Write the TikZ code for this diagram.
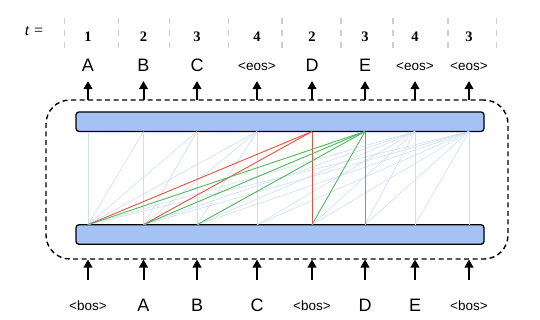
\documentclass[tikz,border=0pt]{standalone}
\usepackage{fontspec}
\setmainfont{Liberation Serif}
\newfontfamily\arialf{Liberation Sans}
\usetikzlibrary{arrows.meta}
\definecolor{barblue}{RGB}{164,194,244}
\definecolor{faintblue}{RGB}{205,221,247}
\definecolor{attred}{RGB}{234,80,60}
\definecolor{attgreen}{RGB}{80,185,90}
\definecolor{sepgrey}{RGB}{205,205,205}
\tikzset{
  bar/.style={draw=black, line width=1.3pt, fill=barblue, rounded corners=3pt,
    minimum width=408pt, minimum height=19.5pt, inner sep=0pt},
  dbox/.style={draw=black, line width=1.4pt, dash pattern=on 5pt off 3.5pt,
    rounded corners=24pt, minimum width=462pt, minimum height=159pt, inner sep=0pt},
  io/.style={-{Triangle[length=8pt,width=8.5pt]}, line width=2pt},
  faint/.style={faintblue, line width=0.6pt},
  redl/.style={attred, line width=0.9pt},
  greenl/.style={attgreen, line width=0.9pt},
  sep/.style={sepgrey, line width=1.6pt, dash pattern=on 6pt off 6pt},
  big/.style={font=\arialf\fontsize{18}{20}\selectfont, anchor=base, inner sep=0pt},
  small/.style={font=\arialf\fontsize{13.5}{15}\selectfont, anchor=base, inner sep=0pt},
  tnum/.style={font=\fontsize{14.5}{17}\selectfont\bfseries, anchor=base, inner sep=0pt},
}
\begin{document}
\begin{tikzpicture}[x=1pt,y=-1pt]
\useasboundingbox (0,0) rectangle (540,319);
% t row
\node[font=\fontsize{16}{18}\selectfont, anchor=base, inner sep=0pt] (tlab) at (34,35.5) {\textit{t}\hspace{4.5pt}=};
\foreach \x [count=\k] in {64.3,118.3,169.3,228.4,282,340.8,392.7,448,496.5}{
  \coordinate (sa\k) at (\x,18.3);
  \coordinate (sb\k) at (\x,48.3);
  \draw[sep] (sa\k) -- (sb\k);
}
\foreach \x/\n [count=\k] in {88/1,143.5/2,197/3,257/4,312/2,365/3,415/4,469/3}{
  \node[tnum] (t\k) at (\x,41) {\n};
}
% dashed box and bars
\node[dbox] (box) at (277,179.5) {};
\node[bar] (topbar) at (280,121.7) {};
\node[bar] (botbar) at (280,234.5) {};
% column coordinates
\foreach \x [count=\k] in {88,143.5,197,257,312,365,415,469}{
  \coordinate (tb\k) at (\x,131.5);
  \coordinate (bt\k) at (\x,224.7);
  \coordinate (ua\k) at (\x,100);
  \coordinate (ub\k) at (\x,81);
  \coordinate (la\k) at (\x,280);
  \coordinate (lb\k) at (\x,259.5);
  \draw[io] (ua\k) -- (ub\k);
  \draw[io] (la\k) -- (lb\k);
}
% top labels
\node[big] (oA) at (88,71) {A};
\node[big] (oB) at (143.5,71) {B};
\node[big] (oC) at (197,71) {C};
\node[small] (oE1) at (257,70) {<eos>};
\node[big] (oD) at (312,71) {D};
\node[big] (oE) at (365,71) {E};
\node[small] (oE2) at (415,70) {<eos>};
\node[small] (oE3) at (469,70) {<eos>};
% bottom labels
\node[small] (iB1) at (88,310) {<bos>};
\node[big] (iA) at (143.5,311) {A};
\node[big] (iB) at (197,311) {B};
\node[big] (iC) at (257,311) {C};
\node[small] (iB2) at (312,310) {<bos>};
\node[big] (iD) at (365,311) {D};
\node[big] (iE) at (415,311) {E};
\node[small] (iB3) at (469,310) {<bos>};
% faint attention
\foreach \j/\lst in {1/{1},2/{1,2},3/{1,2,3},4/{1,2,3,4},7/{1,2,3,4,5,6,7},8/{1,2,3,4,5,6,7,8}}{
  \foreach \i in \lst { \draw[faint] (bt\i) -- (tb\j); }
}
% highlighted attention
\foreach \i in {1,2,5} { \draw[redl] (bt\i) -- (tb5); }
\foreach \i in {1,2,3,5,6} { \draw[greenl] (bt\i) -- (tb6); }
\end{tikzpicture}
\end{document}
